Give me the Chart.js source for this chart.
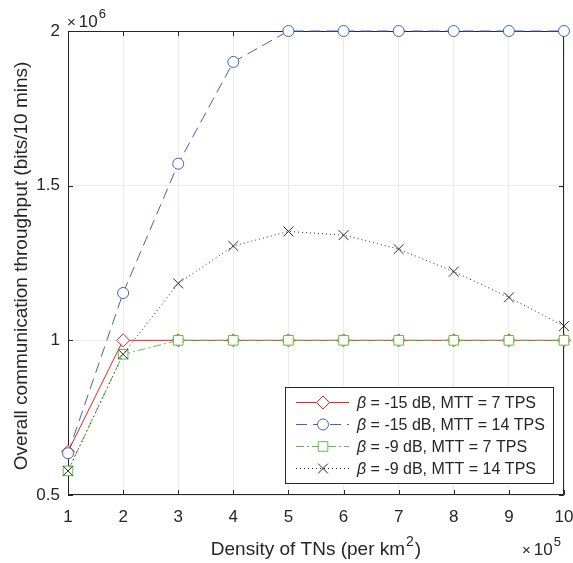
<!DOCTYPE html>
<html>
<head>
<meta charset="utf-8">
<script src="https://cdn.jsdelivr.net/npm/chart.js@4"></script>
<style>
  html, body { margin: 0; padding: 0; background: #ffffff; }
  canvas { display: block; }
</style>
</head>
<body>
<canvas id="c" width="573" height="563"></canvas>
<script>
// Density of terminal nodes, in units of 10^5 per km^2
const density = [1, 2, 3, 4, 5, 6, 7, 8, 9, 10];

// Overall throughput, in units of 10^6 bits per 10 minutes
const thrB15M7  = [0.64, 1.00, 1.00, 1.00, 1.00, 1.00, 1.00, 1.00, 1.00, 1.00];
const thrB15M14 = [0.635, 1.153, 1.571, 1.90, 2.00, 2.00, 2.00, 2.00, 2.00, 2.00];
const thrB9M7   = [0.578, 0.955, 1.00, 1.00, 1.00, 1.00, 1.00, 1.00, 1.00, 1.00];
const thrB9M14  = [0.578, 0.955, 1.184, 1.305, 1.352, 1.340, 1.295, 1.222, 1.139, 1.046];

const seriesLabels = [
  'β = -15 dB, MTT = 7 TPS',
  'β = -15 dB, MTT = 14 TPS',
  'β = -9 dB, MTT = 7 TPS',
  'β = -9 dB, MTT = 14 TPS'
];

const yTicks = [0.5, 1, 1.5, 2];
const xTitle = 'Density of TNs (per km';
const yTitle = 'Overall communication throughput (bits/10 mins)';

const FONT = "'Liberation Sans', Arial, Helvetica, sans-serif";
const TEXT = '#262626';
const AXIS = '#262626';

function pts(ys) { return density.map((x, i) => ({ x: x, y: ys[i] })); }

const datasets = [
  {
    label: seriesLabels[0], data: pts(thrB15M7),
    borderColor: '#f01e23', borderWidth: 1, borderDash: [],
    pointStyle: 'rectRot', pointRadius: 6.5, pointBorderWidth: 1,
    pointBorderColor: '#f01e23', pointBackgroundColor: '#ffffff', order: 4
  },
  {
    label: seriesLabels[1], data: pts(thrB15M14),
    borderColor: '#3f63bf', borderWidth: 1, borderDash: [11, 6],
    pointStyle: 'circle', pointRadius: 5.5, pointBorderWidth: 1,
    pointBorderColor: '#3f63bf', pointBackgroundColor: '#ffffff', order: 3
  },
  {
    label: seriesLabels[2], data: pts(thrB9M7),
    borderColor: '#5fbf45', borderWidth: 1, borderDash: [8, 3, 2, 3],
    pointStyle: 'rect', pointRadius: 6.8, pointBorderWidth: 1,
    pointBorderColor: '#5fbf45', pointBackgroundColor: '#ffffff', order: 2
  },
  {
    label: seriesLabels[3], data: pts(thrB9M14),
    borderColor: '#2a2a2a', borderWidth: 1, borderDash: [1, 3],
    pointStyle: 'crossRot', pointRadius: 7, pointBorderWidth: 1,
    pointBorderColor: '#2a2a2a', pointBackgroundColor: '#ffffff', order: 1
  }
];
datasets.forEach(d => { d.tension = 0; d.clip = false; d.fill = false; });

// Axes box with inward tick marks, drawn under the data
const boxPlugin = {
  id: 'axesBox',
  beforeDatasetsDraw(chart) {
    const { ctx, chartArea: a, scales } = chart;
    ctx.save();
    ctx.strokeStyle = AXIS;
    ctx.lineWidth = 1;
    ctx.beginPath();
    ctx.rect(a.left + 0.5, a.top + 0.5, a.right - a.left - 1, a.bottom - a.top - 1);
    ctx.stroke();
    const tl = 5;
    ctx.beginPath();
    scales.x.ticks.forEach(t => {
      const px = Math.round(scales.x.getPixelForValue(t.value)) + 0.5;
      ctx.moveTo(px, a.bottom); ctx.lineTo(px, a.bottom - tl);
      ctx.moveTo(px, a.top); ctx.lineTo(px, a.top + tl);
    });
    scales.y.ticks.forEach(t => {
      const py = Math.round(scales.y.getPixelForValue(t.value)) + 0.5;
      ctx.moveTo(a.left, py); ctx.lineTo(a.left + tl, py);
      ctx.moveTo(a.right, py); ctx.lineTo(a.right - tl, py);
    });
    ctx.stroke();
    ctx.restore();
  }
};

// Axis titles, exponent labels and the legend
const overlayPlugin = {
  id: 'overlay',
  afterDraw(chart) {
    const { ctx, chartArea: a } = chart;
    ctx.save();
    ctx.fillStyle = TEXT;
    ctx.textBaseline = 'alphabetic';

    // x title with superscript
    ctx.font = '19px ' + FONT;
    const wMain = ctx.measureText(xTitle).width;
    ctx.font = '14px ' + FONT;
    const wSup = ctx.measureText('2').width;
    ctx.font = '19px ' + FONT;
    const wEnd = ctx.measureText(')').width;
    const total = wMain + wSup + wEnd + 2;
    const x0 = (a.left + a.right) / 2 - total / 2;
    const yb = 555;
    ctx.textAlign = 'left';
    ctx.fillText(xTitle, x0, yb);
    ctx.font = '14px ' + FONT;
    ctx.fillText('2', x0 + wMain + 1, yb - 9);
    ctx.font = '19px ' + FONT;
    ctx.fillText(')', x0 + wMain + wSup + 2, yb);

    // y title
    ctx.save();
    ctx.translate(0, (a.top + a.bottom) / 2 + 3);
    ctx.rotate(-Math.PI / 2);
    ctx.textAlign = 'center';
    ctx.font = '19px ' + FONT;
    ctx.fillText(yTitle, 0, 27);
    ctx.restore();

    // exponent labels
    function exponent(xLeft, base, exp) {
      ctx.textAlign = 'left';
      ctx.font = '15px ' + FONT;
      ctx.fillText('×', xLeft, base);
      const w1 = ctx.measureText('×').width;
      ctx.font = '17px ' + FONT;
      ctx.fillText('10', xLeft + w1 + 3, base);
      const w2 = ctx.measureText('10').width;
      ctx.font = '13px ' + FONT;
      ctx.fillText(exp, xLeft + w1 + 3 + w2 + 1, base - 9);
    }
    exponent(67, 27, '6');
    exponent(522, 555, '5');

    // legend
    const lx = 285, ly = 387, lw = 268, lh = 96;
    ctx.fillStyle = '#ffffff';
    ctx.fillRect(lx, ly, lw, lh);
    ctx.strokeStyle = AXIS;
    ctx.lineWidth = 1;
    ctx.strokeRect(lx + 0.5, ly + 0.5, lw, lh);
    const rows = [402, 424, 446, 468];
    chart.data.datasets.forEach((ds, i) => {
      const ry = rows[i] + 0.5;
      ctx.save();
      ctx.strokeStyle = ds.borderColor;
      ctx.lineWidth = ds.borderWidth;
      ctx.setLineDash(ds.borderDash || []);
      ctx.beginPath();
      ctx.moveTo(296, ry); ctx.lineTo(349, ry);
      ctx.stroke();
      ctx.restore();
      ctx.save();
      ctx.strokeStyle = ds.pointBorderColor;
      ctx.fillStyle = ds.pointBackgroundColor;
      ctx.lineWidth = ds.pointBorderWidth;
      Chart.helpers.drawPoint(ctx, {
        pointStyle: ds.pointStyle, radius: ds.pointRadius,
        rotation: 0, borderWidth: ds.pointBorderWidth
      }, 323, ry);
      ctx.restore();

      const label = ds.label;
      ctx.fillStyle = TEXT;
      ctx.textAlign = 'left';
      ctx.font = 'italic 16px ' + FONT;
      ctx.fillText(label.charAt(0), 357, rows[i] + 6);
      const wb = ctx.measureText(label.charAt(0)).width;
      ctx.font = '16px ' + FONT;
      ctx.fillText(label.slice(1), 357 + wb, rows[i] + 6);
    });
    ctx.restore();
  }
};

new Chart(document.getElementById('c'), {
  type: 'line',
  data: { datasets: datasets },
  options: {
    responsive: false,
    animation: false,
    devicePixelRatio: 1,
    layout: { padding: { left: 0, right: 9, top: 31, bottom: 0 } },
    plugins: { legend: { display: false }, tooltip: { enabled: false }, title: { display: false } },
    scales: {
      x: {
        type: 'linear', min: 1, max: 10,
        afterFit(scale) {
          scale.height = 68;
          scale.paddingLeft = 0; scale.paddingRight = 0;
        },
        border: { display: false },
        grid: { color: '#ebebeb', lineWidth: 1, drawTicks: false },
        ticks: {
          stepSize: 1, padding: 12, color: TEXT,
          font: { family: FONT, size: 17 },
          maxRotation: 0, autoSkip: false
        }
      },
      y: {
        type: 'linear', min: yTicks[0], max: yTicks[yTicks.length - 1],
        afterFit(scale) {
          scale.width = 68;
          scale.paddingTop = 0; scale.paddingBottom = 0;
        },
        afterBuildTicks(scale) { scale.ticks = yTicks.map(v => ({ value: v })); },
        border: { display: false },
        grid: { color: '#ebebeb', lineWidth: 1, drawTicks: false },
        ticks: {
          padding: 8, color: TEXT,
          font: { family: FONT, size: 17 },
          callback: v => String(v)
        }
      }
    }
  },
  plugins: [boxPlugin, overlayPlugin]
});
</script>
</body>
</html>
